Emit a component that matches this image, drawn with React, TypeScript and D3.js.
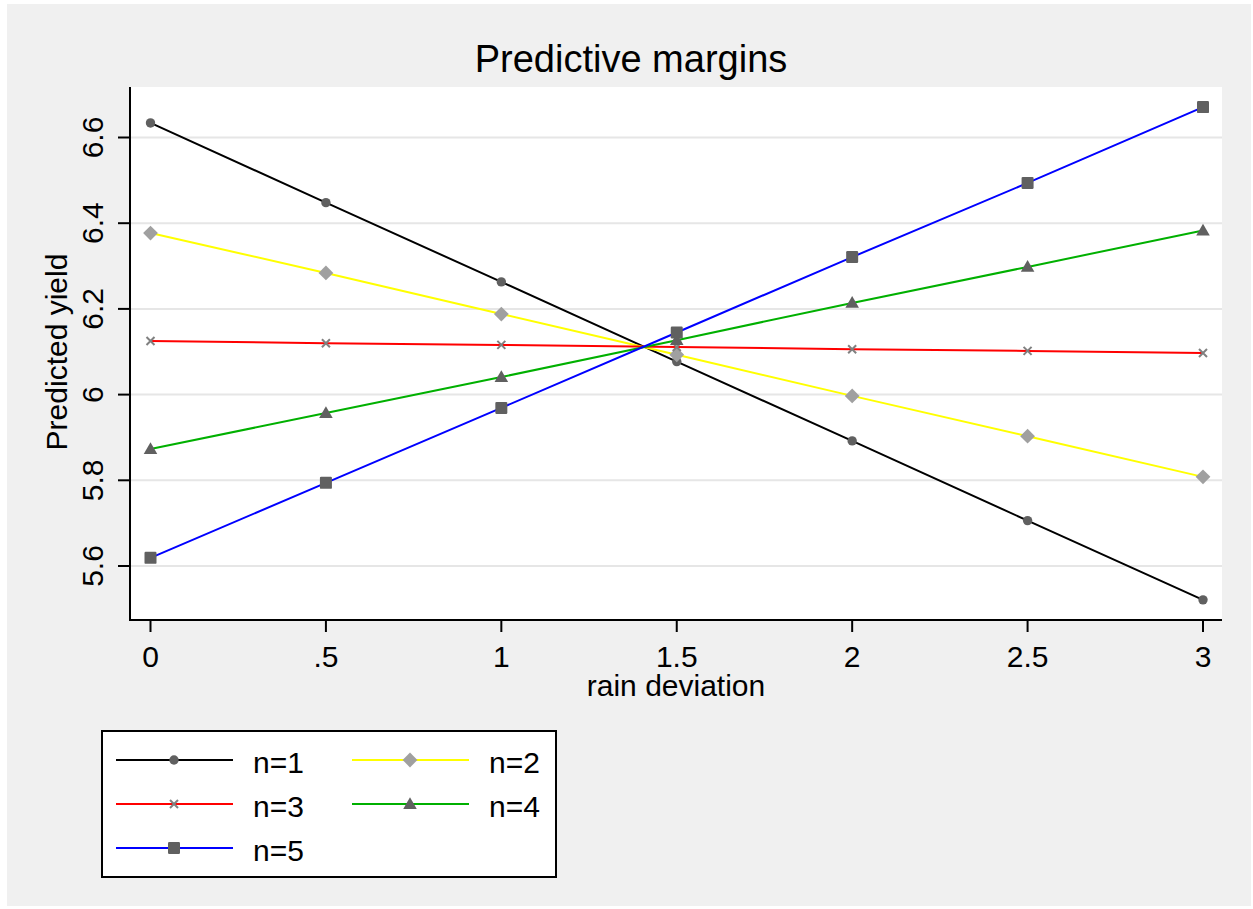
import React from "react";
import * as d3 from "d3";

const xValues = [0, 0.5, 1, 1.5, 2, 2.5, 3];
const xTickLabels = ["0", ".5", "1", "1.5", "2", "2.5", "3"];
const yTicks = [5.6, 5.8, 6, 6.2, 6.4, 6.6];
const yTickLabels = ["5.6", "5.8", "6", "6.2", "6.4", "6.6"];

const n1 = [6.634, 6.448, 6.263, 6.077, 5.892, 5.706, 5.521];
const n2 = [6.377, 6.284, 6.188, 6.093, 5.997, 5.903, 5.808];
const n3 = [6.125, 6.12, 6.116, 6.111, 6.106, 6.102, 6.097];
const n4 = [5.873, 5.957, 6.041, 6.127, 6.214, 6.298, 6.383];
const n5 = [5.619, 5.794, 5.969, 6.145, 6.321, 6.494, 6.671];

const seriesNames = ["n=1", "n=2", "n=3", "n=4", "n=5"];
const seriesData = [n1, n2, n3, n4, n5];
const lineColors = ["#000000", "#ffff00", "#ff0000", "#00b000", "#0000ff"];
const markerTypes = ["circle", "diamond", "x", "triangle", "square"];
const markerColors = ["#606060", "#a0a0a0", "#808080", "#606060", "#606060"];

const W = 1253;
const H = 909;
const plotLeft = 130;
const plotRight = 1222;
const plotTop = 87;
const plotBottom = 620;
const FONT = "Arial, 'Liberation Sans', sans-serif";

const xScale = d3.scaleLinear().domain([0, 3]).range([150.5, 1203]);
const yScale = d3.scaleLinear().domain([5.6, 6.6]).range([566, 137.5]);

function Marker({ type, x, y, color }: { type: string; x: number; y: number; color: string }) {
  if (type === "circle") return <circle cx={x} cy={y} r={4.7} fill={color} />;
  if (type === "diamond") {
    const s = 7.4;
    return <path d={`M${x},${y - s}L${x + s},${y}L${x},${y + s}L${x - s},${y}Z`} fill={color} />;
  }
  if (type === "x") {
    const s = 4;
    return (
      <path
        d={`M${x - s},${y - s}L${x + s},${y + s}M${x - s},${y + s}L${x + s},${y - s}`}
        stroke={color}
        strokeWidth={2}
      />
    );
  }
  if (type === "triangle") {
    const sym = d3.symbol(d3.symbolTriangle, 80)();
    return <path d={sym || ""} transform={`translate(${x},${y + 1})`} fill={color} />;
  }
  const s = 6;
  return <rect x={x - s} y={y - s} width={2 * s} height={2 * s} rx={1.2} fill={color} />;
}

export default function App() {
  const line = d3
    .line<number>()
    .x((_, i) => xScale(xValues[i]))
    .y((d) => yScale(d));

  const legendItems = [
    { idx: 0, lx: 116, ly: 760 },
    { idx: 1, lx: 352, ly: 760 },
    { idx: 2, lx: 116, ly: 804 },
    { idx: 3, lx: 352, ly: 804 },
    { idx: 4, lx: 116, ly: 848 },
  ];

  return (
    <svg
      width={W}
      height={H}
      style={{ position: "absolute", left: 0, top: 0 }}
      fontFamily={FONT}
    >
      <rect x={0} y={0} width={W} height={H} fill="#ffffff" />
      <rect x={7} y={4} width={1244} height={902} fill="#f0f0f0" />
      <rect x={plotLeft} y={plotTop} width={plotRight - plotLeft} height={plotBottom - plotTop} fill="#ffffff" />

      {yTicks.map((t) => (
        <line key={"g" + t} x1={plotLeft} x2={plotRight} y1={yScale(t)} y2={yScale(t)} stroke="#e6e6e6" strokeWidth={2} />
      ))}

      {/* axes */}
      <line x1={plotLeft} x2={plotLeft} y1={plotTop} y2={plotBottom + 1} stroke="#000" strokeWidth={2} />
      <line x1={plotLeft - 1} x2={plotRight} y1={plotBottom} y2={plotBottom} stroke="#000" strokeWidth={2} />

      {yTicks.map((t, i) => (
        <g key={"yt" + t}>
          <line x1={plotLeft - 12} x2={plotLeft} y1={yScale(t)} y2={yScale(t)} stroke="#000" strokeWidth={2} />
          <text
            transform={`translate(103,${yScale(t)}) rotate(-90)`}
            textAnchor="middle"
            fontSize={30}
            fill="#000"
          >
            {yTickLabels[i]}
          </text>
        </g>
      ))}

      {xValues.map((v, i) => (
        <g key={"xt" + v}>
          <line x1={xScale(v)} x2={xScale(v)} y1={plotBottom} y2={plotBottom + 12} stroke="#000" strokeWidth={2} />
          <text x={xScale(v)} y={667} textAnchor="middle" fontSize={30} fill="#000">
            {xTickLabels[i]}
          </text>
        </g>
      ))}

      <text x={(plotLeft + plotRight) / 2} y={696} textAnchor="middle" fontSize={30} fill="#000">
        rain deviation
      </text>
      <text transform={`translate(67,352) rotate(-90)`} textAnchor="middle" fontSize={30} fill="#000">
        Predicted yield
      </text>
      <text x={631} y={72} textAnchor="middle" fontSize={38} fill="#000">
        Predictive margins
      </text>

      {seriesData.map((s, k) => (
        <path key={"l" + k} d={line(s) || ""} fill="none" stroke={lineColors[k]} strokeWidth={2} />
      ))}
      {seriesData.map((s, k) => (
        <g key={"m" + k}>
          {s.map((v, i) => (
            <Marker key={i} type={markerTypes[k]} x={xScale(xValues[i])} y={yScale(v)} color={markerColors[k]} />
          ))}
        </g>
      ))}

      {/* legend */}
      <rect x={102} y={731} width={454} height={146} fill="#ffffff" stroke="#000" strokeWidth={2} />
      {legendItems.map(({ idx, lx, ly }) => (
        <g key={"lg" + idx}>
          <line x1={lx} x2={lx + 117} y1={ly} y2={ly} stroke={lineColors[idx]} strokeWidth={2} />
          <Marker type={markerTypes[idx]} x={lx + 58} y={ly} color={markerColors[idx]} />
          <text x={lx + 137} y={ly + 13} fontSize={30} fill="#000">
            {seriesNames[idx]}
          </text>
        </g>
      ))}
    </svg>
  );
}
